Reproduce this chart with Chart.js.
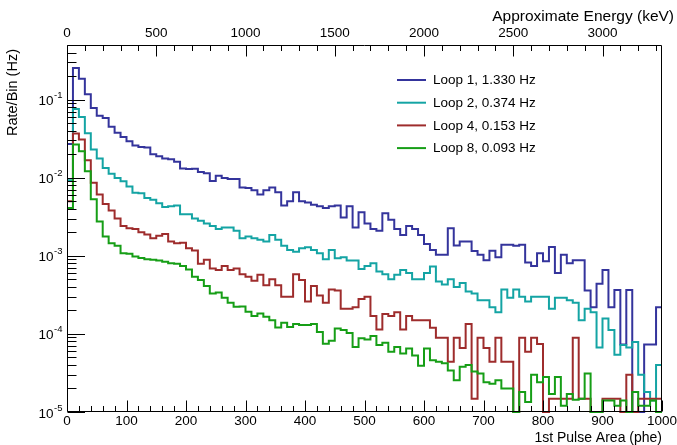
<!DOCTYPE html>
<html><head><meta charset="utf-8">
<script src="https://cdn.jsdelivr.net/npm/chart.js@4.4.1/dist/chart.umd.min.js"></script>
<style>html,body{margin:0;padding:0;background:#fff}#wrap{width:677px;height:445px}</style>
</head><body><div id="wrap"><canvas id="c" width="677" height="445"></canvas></div>
<script>
// bin lower edges (phe), bin width 10
const binLow = [0,10,20,30,40,50,60,70,80,90,100,110,120,130,140,150,160,170,180,190,
200,210,220,230,240,250,260,270,280,290,300,310,320,330,340,350,360,370,380,390,
400,410,420,430,440,450,460,470,480,490,500,510,520,530,540,550,560,570,580,590,
600,610,620,630,640,650,660,670,680,690,700,710,720,730,740,750,760,770,780,790,
800,810,820,830,840,850,860,870,880,890,900,910,920,930,940,950,960,970,980,990];
const binEnd = 1000;

const loop1 = [0.027,0.253,0.185,0.117,0.078,0.062,0.058,0.0448,0.0375,0.0333,
0.0293,0.0258,0.0247,0.0243,0.0200,0.0188,0.0176,0.0172,0.0160,0.0131,
0.0129,0.0130,0.0118,0.0114,0.0091,0.0106,0.0099,0.0096,0.0096,0.0075,
0.0074,0.0069,0.0061,0.0069,0.0075,0.0065,0.0044,0.0050,0.0065,0.0050,
0.0048,0.0045,0.0043,0.0041,0.0043,0.0044,0.0031,0.0043,0.0023,0.0036,
0.0026,0.0022,0.0021,0.0035,0.0029,0.0022,0.00185,0.0024,0.0022,0.00185,
0.00142,0.00119,0.00103,0.00103,0.00226,0.00135,0.00152,0.00152,0.00115,0.00103,
0.00088,0.00116,0.00096,0.00138,0.00138,0.00134,0.00138,0.00082,0.00074,0.00108,
0.00085,0.0013,0.0006,0.00103,0.0008,0.00088,0.00088,0.00036,0.00022,0.00044,
0.00066,0.00022,0.000365,0.000073,0.000365,0,0,0.000073,0.000073,0.00022];

const loop2 = [0.0093,0.076,0.060,0.037,0.023,0.0176,0.0133,0.0112,0.0099,0.0090,
0.0077,0.0064,0.0063,0.0055,0.0052,0.0047,0.0042,0.0043,0.0044,0.0034,
0.0034,0.0030,0.0028,0.0026,0.0024,0.0022,0.0023,0.0023,0.0021,0.00168,
0.00177,0.00168,0.0016,0.00152,0.00185,0.0016,0.00134,0.00119,0.00113,0.00125,
0.00129,0.00119,0.00108,0.0009,0.00119,0.00093,0.00096,0.00087,0.00087,0.00068,
0.00074,0.0008,0.00063,0.00058,0.0005,0.00057,0.00066,0.0006,0.0005,0.0005,
0.0006,0.00073,0.00047,0.00043,0.0005,0.0004,0.00045,0.00035,0.00033,0.00027,
0.00027,0.00022,0.00019,0.00037,0.00029,0.00037,0.0003,0.00026,0.0003,0.0003,
0.0003,0.00021,0.00029,0.00029,0.00027,0.00025,0.00015,0.00021,0.00019,0.000067,
0.000158,0.000112,0.000054,0.000072,0.000067,0.000079,0.00003,0.000018,0.000014,0.00004];

const loop4 = [0.0050,0.0367,0.0308,0.0167,0.0086,0.0061,0.0046,0.0038,0.0030,0.0024,
0.00226,0.0022,0.0020,0.00188,0.00168,0.0018,0.0019,0.00152,0.00145,0.00147,
0.00125,0.00117,0.00079,0.00089,0.00069,0.00066,0.00074,0.00066,0.00069,0.00058,
0.00054,0.00048,0.00057,0.00042,0.0005,0.00042,0.0003,0.0003,0.00058,0.00049,
0.00026,0.00041,0.00031,0.00025,0.00037,0.00036,0.00021,0.00021,0.00022,0.00028,
0.0003,0.00017,0.000114,0.00018,0.00017,0.00019,0.000114,0.00017,0.00015,0.00015,
0.00015,0.00012,0.000089,0.000089,0.000044,0.000089,0.000066,0.000134,0.0000148,0.000089,
0.000066,0.000044,0.000089,0.000044,0.000044,0,0.000089,0.000059,0.000089,0.000074,
0,0.0000148,0.0000148,0.0000148,0.0000148,0.000089,0.0000148,0.0000148,0,0,
0.0000148,0.0000148,0.0000148,0,0.00003,0,0.0000148,0.0000148,0.0000148,0.0000148];

const loop8 = [0.0041,0.0266,0.0218,0.0121,0.0053,0.00275,0.00177,0.00145,0.00134,0.00108,
0.00106,0.00098,0.00094,0.0009,0.00089,0.00087,0.00084,0.0008,0.00079,0.00074,
0.00067,0.00054,0.00049,0.00041,0.00033,0.00034,0.00029,0.00025,0.000223,0.000225,
0.000192,0.000169,0.000183,0.000166,0.00015,0.000121,0.000139,0.000123,0.000134,0.00013,
0.00013,0.000134,0.000106,0.000075,0.000082,0.000117,0.000112,0.000103,0.000068,0.000088,
0.000085,0.000094,0.000072,0.000077,0.000059,0.000068,0.000056,0.000065,0.000053,0.000039,
0.000065,0.000046,0.000044,0.000042,0.000034,0.0000255,0.000038,0.00004,0.000033,0.000031,
0.000024,0.000023,0.0000255,0.00002,0.00002,0,0.000018,0.0000134,0.00003,0.000024,
0.000028,0.000017,0.000028,0.000012,0.000017,0.0000144,0.0000148,0.000031,0,0,
0.000014,0.000014,0.000012,0.000014,0,0.000018,0.000012,0.000012,0.000014,0];

const seriesNames = ['Loop 1, 1.330 Hz','Loop 2, 0.374 Hz','Loop 4, 0.153 Hz','Loop 8, 0.093 Hz'];
const seriesColors = ['rgb(52,52,156)','rgb(20,164,164)','rgb(158,44,44)','rgb(22,158,22)'];

const xTicksMajor = [0,100,200,300,400,500,600,700,800,900,1000];
const xTickLabels = ['0','100','200','300','400','500','600','700','800','900','1000'];
const xMinorStep = 20;
const topTicksMajor = [0,500,1000,1500,2000,2500,3000];
const topTickLabels = ['0','500','1000','1500','2000','2500','3000'];
const topMinorStep = 100;
const topMax = 3333.33;
const yTicksMajor = [1e-5,1e-4,1e-3,1e-2,1e-1];
const yTickExp = ['-5','-4','-3','-2','-1'];
const yMin = 1e-5, yMax = 0.5;

const FONT = '"Liberation Sans", Arial, Helvetica, sans-serif';

function hist(vals){
  const pts = binLow.map((x,i)=>({x:x, y: vals[i] > 0 ? vals[i] : yMin}));
  pts.push({x: binEnd, y: vals[vals.length-1] > 0 ? vals[vals.length-1] : yMin});
  return pts;
}
const allSeries = [loop1, loop2, loop4, loop8];

const rootAxes = {
  id:'rootAxes',
  afterDraw(chart){
    const ctx = chart.ctx, a = chart.chartArea;
    const sx = chart.scales.x, sx2 = chart.scales.x2, sy = chart.scales.y;
    const L = Math.round(a.left)+0.5, R = Math.round(a.right)-0.5, T = Math.round(a.top)+0.5, B = Math.round(a.bottom)-0.5;
    ctx.save();
    ctx.strokeStyle = '#000'; ctx.lineWidth = 1;
    ctx.beginPath();
    ctx.rect(L, T, R-L, B-T);
    ctx.stroke();
    // bottom ticks
    ctx.beginPath();
    for (let v=0; v<=1000+1e-6; v+=xMinorStep){
      const px = Math.round(sx.getPixelForValue(v))+0.5;
      const len = xTicksMajor.includes(v) ? 11 : 5.5;
      ctx.moveTo(px, B); ctx.lineTo(px, B-len);
    }
    // top ticks
    for (let v=0; v<=topMax; v+=topMinorStep){
      const px = Math.round(sx2.getPixelForValue(v))+0.5;
      const len = (v % 500 === 0) ? 11 : 5.5;
      ctx.moveTo(px, T); ctx.lineTo(px, T+len);
    }
    // left ticks
    for (let d=-5; d<=-1; d++){
      for (let m=1; m<=9; m++){
        const v = m*Math.pow(10,d);
        if (v > yMax*1.0001) continue;
        const py = Math.round(sy.getPixelForValue(v))+0.5;
        const len = m===1 ? 17.5 : 9;
        ctx.moveTo(L, py); ctx.lineTo(L+len, py);
      }
    }
    ctx.stroke();

    ctx.fillStyle = '#000';
    ctx.font = '13.5px ' + FONT;
    ctx.textAlign = 'center'; ctx.textBaseline = 'alphabetic';
    xTicksMajor.forEach((v,i)=>{
      ctx.fillText(xTickLabels[i], sx.getPixelForValue(v), 424.5);
    });
    topTicksMajor.forEach((v,i)=>{
      ctx.fillText(topTickLabels[i], sx2.getPixelForValue(v), 36.5);
    });
    // y labels 10^n
    yTicksMajor.forEach((v,i)=>{
      const py = sy.getPixelForValue(v);
      ctx.font = '9.5px ' + FONT;
      ctx.textAlign = 'right';
      const ew = ctx.measureText(yTickExp[i]).width;
      ctx.fillText(yTickExp[i], 62.5, py - 1.5);
      ctx.font = '13.5px ' + FONT;
      ctx.fillText('10', 62.5 - ew - 0.5, py + 5.5);
    });
    // titles
    ctx.textAlign = 'right';
    ctx.font = '14px ' + FONT;
    ctx.fillText('1st Pulse Area (phe)', 662, 442);
    ctx.font = '15.5px ' + FONT;
    ctx.fillText('Approximate Energy (keV)', 674, 21);
    ctx.save();
    ctx.translate(17, 49);
    ctx.rotate(-Math.PI/2);
    ctx.font = '14.5px ' + FONT;
    ctx.textAlign = 'right';
    ctx.fillText('Rate/Bin (Hz)', 0, 0);
    ctx.restore();
    // legend
    ctx.font = '13.5px ' + FONT;
    ctx.textAlign = 'left'; ctx.textBaseline = 'middle';
    seriesNames.forEach((n,i)=>{
      const yy = 80 + i*22.7;
      ctx.strokeStyle = seriesColors[i]; ctx.lineWidth = 2;
      ctx.beginPath(); ctx.moveTo(397, yy); ctx.lineTo(426, yy); ctx.stroke();
      ctx.fillStyle = '#000';
      ctx.fillText(n, 433, yy+0.5);
    });
    ctx.restore();
  }
};

new Chart(document.getElementById('c'), {
  type:'line',
  data:{
    datasets: allSeries.map((s,i)=>({
      label: seriesNames[i],
      data: hist(s),
      borderColor: seriesColors[i],
      backgroundColor: seriesColors[i],
      borderWidth: 2,
      pointRadius: 0,
      stepped: 'before',
      fill: false,
      order: 3 - i,
      clip: {left:0, right:0, top:0, bottom:1}
    }))
  },
  options:{
    responsive:false, animation:false, devicePixelRatio:1,
    parsing: true,
    layout:{padding:{left:67, right:15, top:45, bottom:33}},
    plugins:{legend:{display:false}, tooltip:{enabled:false}},
    scales:{
      x:{type:'linear', min:0, max:1000, display:false},
      x2:{type:'linear', position:'top', min:0, max:topMax, display:false},
      y:{type:'logarithmic', min:yMin, max:yMax, display:false}
    }
  },
  plugins:[rootAxes]
});
</script></body></html>
